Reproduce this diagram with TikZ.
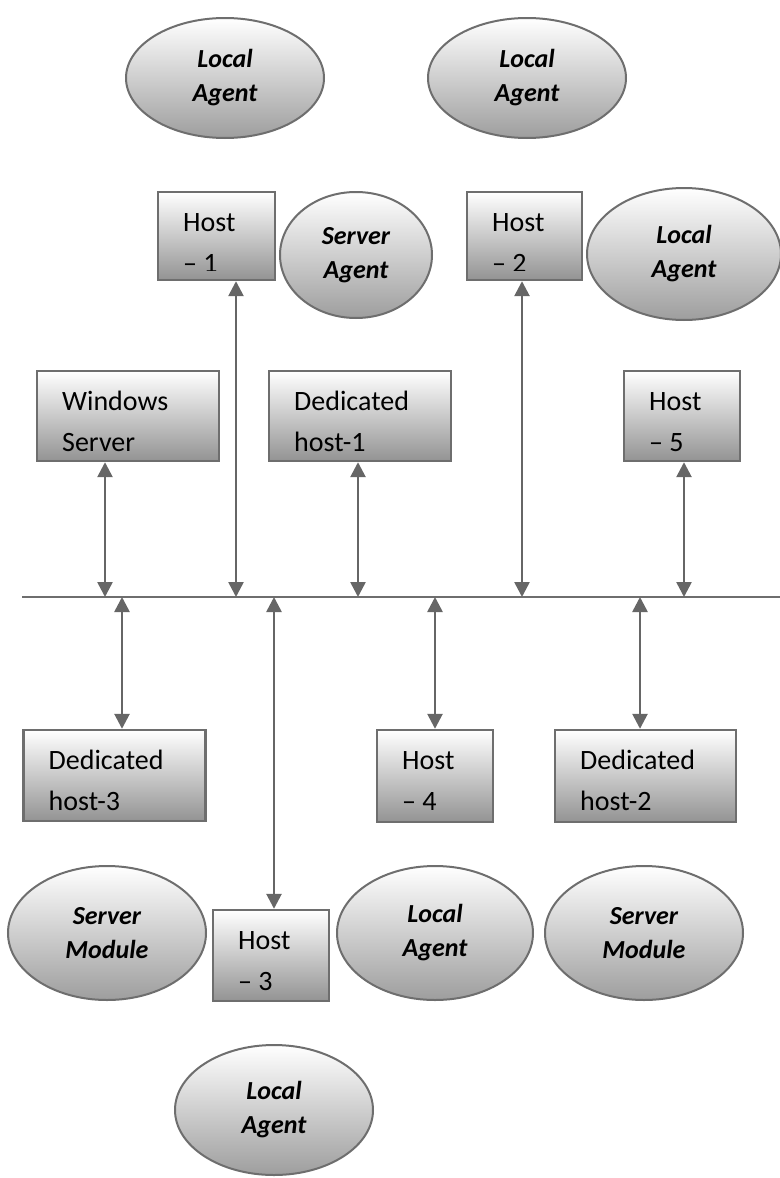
\documentclass[tikz,border=0pt]{standalone}
\usepackage{fontspec}
\setmainfont{Carlito}
\usetikzlibrary{arrows.meta,shapes.geometric}

\definecolor{linegray}{HTML}{6E6E6E}
\definecolor{arrowgray}{HTML}{666666}
\definecolor{fillgray}{HTML}{939393}

\tikzset{
  hosttext/.style={anchor=base west, inner sep=0pt, minimum width=0pt, minimum height=0pt,
    font=\fontsize{14pt}{20pt}\selectfont},
  hostbox/.style 2 args={rectangle, draw=linegray, line width=1.2pt, inner sep=0pt,
    top color=white, bottom color=fillgray,
    path picture={
      \clip ([yshift=5pt]path picture bounding box.south west) rectangle (path picture bounding box.north east);
      \node[hosttext] at ([xshift=12pt,yshift=-19.5pt]path picture bounding box.north west) {#1};
      \node[hosttext] at ([xshift=12pt,yshift=-40pt]path picture bounding box.north west) {#2};
    }},
  agent/.style={ellipse, draw=linegray, line width=1pt, inner sep=0pt,
    top color=white, bottom color=fillgray!90, align=center,
    font=\fontsize{13pt}{17pt}\selectfont\bfseries\itshape},
  link/.style={draw=arrowgray, line width=1.3pt, {Triangle[length=7.5pt,width=7.5pt]}-{Triangle[length=7.5pt,width=7.5pt]}},
  bus/.style={draw=linegray, line width=1.4pt}
}

\begin{document}
\begin{tikzpicture}[x=0.5pt,y=-0.5pt]
  \useasboundingbox (0,0) rectangle (780,1178);

  % agents and modules
  \node[agent, minimum width=99pt, minimum height=60pt] (la1) at (225,78) {Local\\Agent};
  \node[agent, minimum width=99pt, minimum height=60pt] (la2) at (527,78) {Local\\Agent};
  \node[agent, minimum width=76pt, minimum height=63pt] (sa) at (356,255) {Server\\Agent};
  \node[agent, minimum width=97pt, minimum height=66pt] (la3) at (684,254) {Local\\Agent};
  \node[agent, minimum width=99pt, minimum height=67pt] (sm1) at (107,933) {Server\\Module};
  \node[agent, minimum width=98pt, minimum height=67pt] (la4) at (435,933) {Local\\Agent};
  \node[agent, minimum width=99pt, minimum height=67pt] (sm2) at (644,933) {Server\\Module};
  \node[agent, minimum width=99pt, minimum height=65pt] (la5) at (274,1110) {Local\\Agent};

  % hosts
  \node[hostbox={Host}{– 1}, minimum width=58.5pt, minimum height=44pt] (h1) at (216.5,236) {};
  \node[hostbox={Host}{– 2}, minimum width=57.5pt, minimum height=44pt] (h2) at (524.5,236) {};
  \node[hostbox={Windows}{Server}, minimum width=91pt, minimum height=45pt] (ws) at (128,416) {};
  \node[hostbox={Dedicated}{host-1}, minimum width=91pt, minimum height=45pt] (dh1) at (360,416) {};
  \node[hostbox={Host}{– 5}, minimum width=58pt, minimum height=45pt] (h5) at (682,416) {};
  \node[hostbox={Dedicated}{host-3}, minimum width=91pt, minimum height=45.5pt] (dh3) at (114.5,775.5) {};
  \node[hostbox={Host}{– 4}, minimum width=58pt, minimum height=46pt] (h4) at (435,776) {};
  \node[hostbox={Dedicated}{host-2}, minimum width=90.5pt, minimum height=46pt] (dh2) at (645.5,776) {};
  \node[hostbox={Host}{– 3}, minimum width=58pt, minimum height=45.5pt] (h3) at (271,955.5) {};

  % network bus
  \coordinate (busL) at (22,597);
  \coordinate (busR) at (780,597);
  \draw[bus] (busL) -- (busR);
  \coordinate (b1) at (105,597);
  \coordinate (b2) at (236,597);
  \coordinate (b3) at (358,597);
  \coordinate (b4) at (522,597);
  \coordinate (b5) at (684,597);
  \coordinate (b6) at (122,597);
  \coordinate (b7) at (274,597);
  \coordinate (b8) at (435,597);
  \coordinate (b9) at (640,597);

  % links to the bus
  \draw[link] (b1 |- ws.south) -- (b1);
  \draw[link] (b2 |- h1.south) -- (b2);
  \draw[link] (b3 |- dh1.south) -- (b3);
  \draw[link] (b4 |- h2.south) -- (b4);
  \draw[link] (b5 |- h5.south) -- (b5);
  \draw[link] (b6) -- (b6 |- dh3.north);
  \draw[link] (b7) -- (b7 |- h3.north);
  \draw[link] (b8) -- (b8 |- h4.north);
  \draw[link] (b9) -- (b9 |- dh2.north);
\end{tikzpicture}
\end{document}
